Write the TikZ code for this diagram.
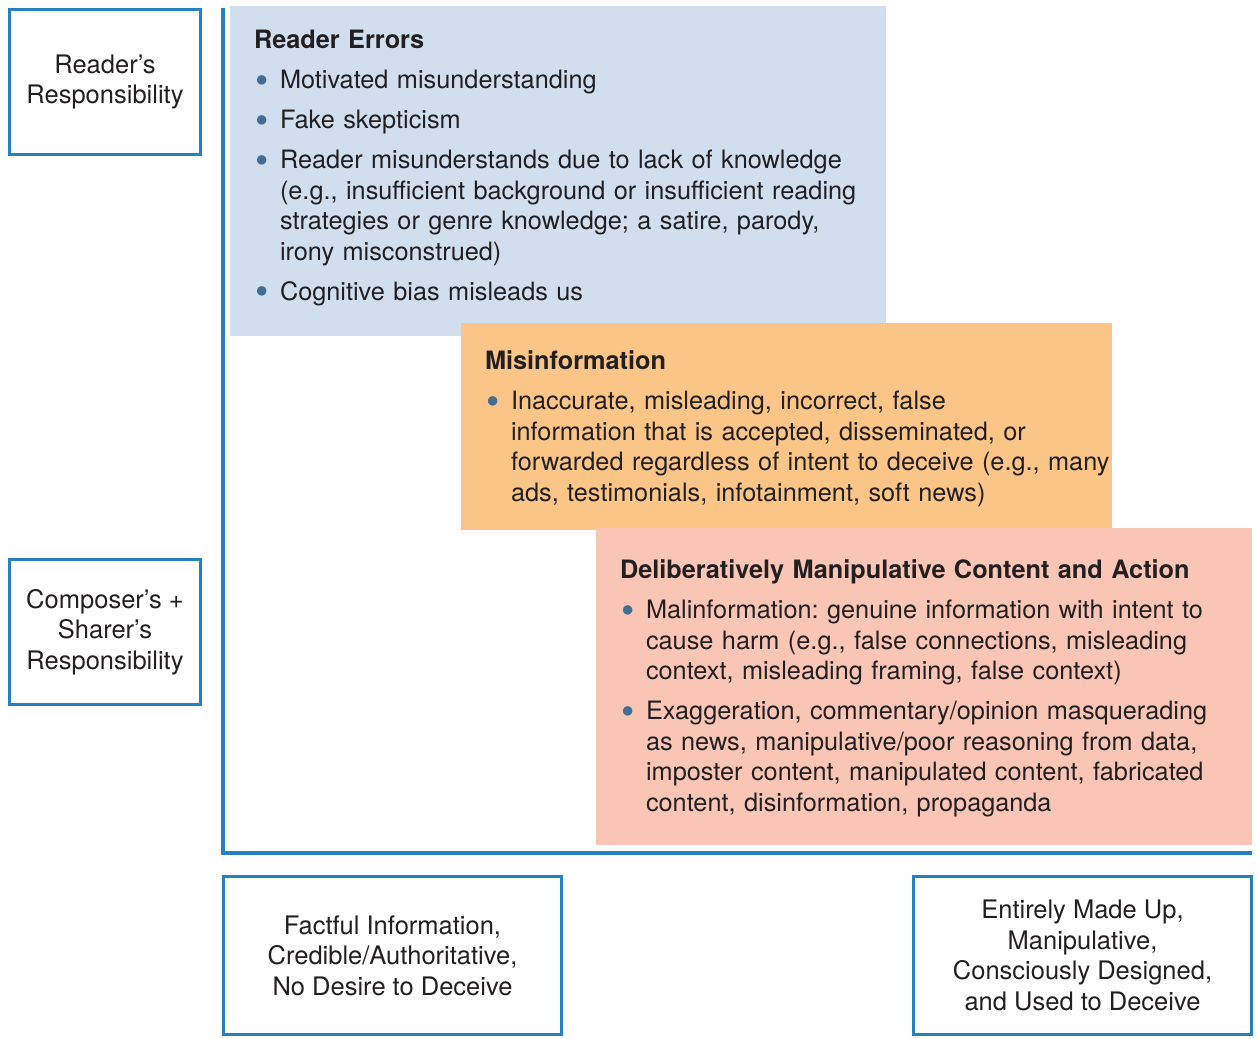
\documentclass[tikz,border=0pt]{standalone}
\usepackage{fontspec}
\setmainfont{TeX Gyre Heros}
\usetikzlibrary{positioning}
\definecolor{axisblue}{RGB}{38,128,190}
\definecolor{panelblue}{RGB}{208,222,238}
\definecolor{panelorange}{RGB}{251,197,136}
\definecolor{panelsalmon}{RGB}{249,198,181}
\definecolor{dotblue}{RGB}{66,110,150}
\definecolor{inkgray}{RGB}{35,31,32}
\frenchspacing
\newcommand{\bpoint}[1]{\par{\hangindent=26pt\hangafter=0\noindent\llap{\makebox[25pt][l]{\raisebox{-4.5pt}{\fontsize{38}{30}\selectfont\textcolor{dotblue}{\textbullet}}}}#1\par}}

\begin{document}
\begin{tikzpicture}[x=1pt, y=-1pt,
        panel/.style={rectangle, inner sep=0pt, draw=none},
        paneltext/.style={inner sep=0pt, text width=#1, align=left, text=inkgray,
            font=\fontsize{25.3}{30.5}\selectfont,
            execute at begin node={\setlength{\parskip}{9.5pt}\setlength{\parindent}{0pt}}},
        labelbox/.style={draw=axisblue, line width=3pt, inner sep=0pt, align=center,
            text=inkgray, font=\fontsize{25.5}{30.5}\selectfont},
        axis/.style={draw=axisblue, line width=4pt}]
        \useasboundingbox (0,0) rectangle (1257,1038);
        %% Panels
        \node [panel, fill=panelblue, minimum width=656pt, minimum height=330pt] at (558,171) (errpanel) {};
        \node [paneltext=680pt, below right=24.5pt and 24pt of errpanel.north west] (errtext)
            {\textbf{Reader Errors}
            \bpoint{Motivated misunderstanding}
            \bpoint{Fake skepticism}
            \bpoint{Reader misunderstands due to lack of knowledge\newline(e.g., insufficient background or insufficient reading\newline strategies or genre knowledge; a satire, parody,\newline irony misconstrued)}
            \bpoint{Cognitive bias misleads us}};
        \node [panel, fill=panelorange, minimum width=651pt, minimum height=207pt] at (786.5,426.5) (mispanel) {};
        \node [paneltext=680pt, below right=28pt and 24pt of mispanel.north west] (mistext)
            {\textbf{Misinformation}
            \bpoint{Inaccurate, misleading, incorrect, false\newline information that is accepted, disseminated, or\newline forwarded regardless of intent to deceive (e.g., many\newline ads, testimonials, infotainment, soft news)}};
        \node [panel, fill=panelsalmon, minimum width=656pt, minimum height=317pt] at (924,686.5) (manpanel) {};
        \node [paneltext=680pt, below right=32pt and 24pt of manpanel.north west] (mantext)
            {\textbf{Deliberatively Manipulative Content and Action}
            \bpoint{Malinformation: genuine information with intent to\newline cause harm (e.g., false connections, misleading\newline context, misleading framing, false context)}
            \bpoint{Exaggeration, commentary/opinion masquerading\newline as news, manipulative/poor reasoning from data,\newline imposter content, manipulated content, fabricated\newline content, disinformation, propaganda}};
        %% Axes
        \coordinate (ytop) at (223,8);
        \coordinate (origin) at (223,853);
        \coordinate (xend) at (1252,853);
        \draw [axis] (ytop) -- (origin) -- (xend);
        %% Labels
        \node [labelbox, minimum width=191pt, minimum height=145pt] at (105,82) (reader) {Reader’s\\Responsibility};
        \node [labelbox, minimum width=191pt, minimum height=145pt] at (105,632) (composer) {Composer’s +\\Sharer’s\\Responsibility};
        \node [labelbox, minimum width=338pt, minimum height=158pt] at (392.5,955.5) (factful) {Factful Information,\\Credible/Authoritative,\\No Desire to Deceive};
        \node [labelbox, minimum width=338pt, minimum height=158pt] at (1082.5,955.5) (madeup) {Entirely Made Up,\\Manipulative,\\Consciously Designed,\\and Used to Deceive};
    \end{tikzpicture}
\end{document}
